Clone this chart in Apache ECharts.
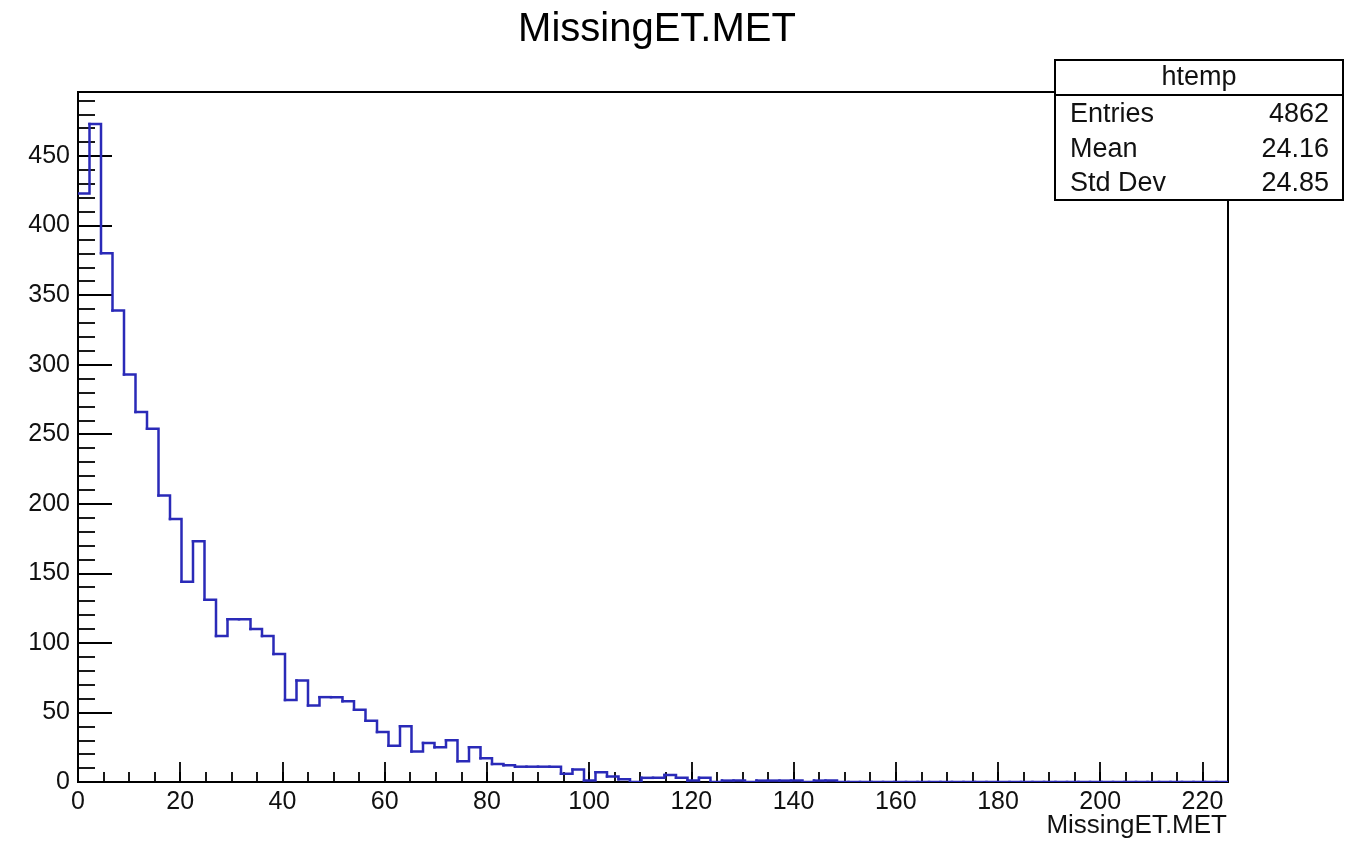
<!DOCTYPE html>
<html>
<head>
<meta charset="utf-8">
<script src="https://cdn.jsdelivr.net/npm/echarts@6/dist/echarts.min.js"></script>
<style>html,body{margin:0;padding:0;background:#fff}#c{width:1359px;height:847px}</style>
</head>
<body>
<div id="c"></div>
<script>
const chartTitle = 'MissingET.MET';
const xAxisName = 'MissingET.MET';
const binWidth = 2.25;
const xMin = 0;
const xMax = 225;
const yMin = 0;
const yMax = 496;
const counts = [
  423, 473, 380, 339, 293, 266, 254, 206, 189, 144,
  173, 131, 105, 117, 117, 110, 105, 92, 59, 73,
  55, 61, 61, 58, 52, 44, 36, 26, 40, 22,
  28, 25, 30, 15, 25, 17, 13, 12, 11, 11,
  11, 11, 6, 9, 1, 7, 4, 2, 0, 3,
  3, 5, 3, 1, 3, 0, 1, 1, 0, 1,
  1, 1, 1, 0, 1, 1, 0, 0, 0, 0,
  0, 0, 0, 0, 0, 0, 0, 0, 0, 0,
  0, 0, 0, 0, 0, 0, 0, 0, 0, 0,
  0, 0, 0, 0, 0, 0, 0, 0, 0, 0
];
const statsTitle = 'htemp';
const statsLabels = ['Entries', 'Mean', 'Std Dev'];
const statsValues = ['4862', '24.16', '24.85'];

const font = 'Liberation Sans, Arial, Helvetica, sans-serif';
// each bin: [left edge, right edge, count, next count]
const binData = counts.map((c, i) => [
  xMin + i * binWidth,
  xMin + (i + 1) * binWidth,
  c,
  i + 1 < counts.length ? counts[i + 1] : c
]);

const chart = echarts.init(document.getElementById('c'), null, {renderer: 'canvas'});

const baseX = {
  type: 'value', min: xMin, max: xMax, position: 'bottom', gridIndex: 0,
  splitLine: {show: false},
  axisLine: {show: true, onZero: false, lineStyle: {color: '#000', width: 2}}
};
const baseY = {
  type: 'value', min: yMin, max: yMax, position: 'left', gridIndex: 0,
  splitLine: {show: false},
  axisLine: {show: true, onZero: false, lineStyle: {color: '#000', width: 2}}
};

const rows = statsLabels.map((l, i) => [l, statsValues[i]]);
const graphics = [
  {type: 'text', x: 657, y: 30, z: 100, style: {text: chartTitle, font: '40px ' + font, fill: '#000', textAlign: 'center', textVerticalAlign: 'middle'}},
  {type: 'text', x: 1227, y: 826, z: 100, style: {text: xAxisName, font: '26px ' + font, fill: '#111', textAlign: 'right', textVerticalAlign: 'middle'}},
  {type: 'rect', z: 100, shape: {x: 1055, y: 60, width: 288, height: 140}, style: {fill: '#fff', stroke: '#000', lineWidth: 2}},
  {type: 'line', z: 101, shape: {x1: 1055, y1: 95, x2: 1343, y2: 95}, style: {stroke: '#000', lineWidth: 2}},
  {type: 'text', x: 1199, y: 78, z: 102, style: {text: statsTitle, font: '27px ' + font, fill: '#111', textAlign: 'center', textVerticalAlign: 'middle'}}
];
rows.forEach((r, i) => {
  const y = 115 + i * 34.3;
  graphics.push({type: 'text', x: 1070, y: y, z: 102, style: {text: r[0], font: '27px ' + font, fill: '#111', textAlign: 'left', textVerticalAlign: 'middle'}});
  graphics.push({type: 'text', x: 1329, y: y, z: 102, style: {text: r[1], font: '27px ' + font, fill: '#111', textAlign: 'right', textVerticalAlign: 'middle'}});
});

chart.setOption({
  animation: false,
  backgroundColor: '#fff',
  grid: {left: 78, right: 131, top: 92, bottom: 65, show: true, borderColor: '#000', borderWidth: 2, backgroundColor: 'transparent', containLabel: false, outerBoundsMode: 'none'},
  xAxis: [
    Object.assign({}, baseX, {
      interval: 20,
      axisTick: {show: true, inside: true, length: 20, lineStyle: {color: '#000', width: 1.8}},
      axisLabel: {show: true, margin: 8, fontSize: 25, fontFamily: font, color: '#111', showMaxLabel: false}
    }),
    Object.assign({}, baseX, {
      interval: 5,
      axisTick: {show: true, inside: true, length: 10, lineStyle: {color: '#000', width: 1.8}},
      axisLabel: {show: false}
    })
  ],
  yAxis: [
    Object.assign({}, baseY, {
      interval: 50,
      axisTick: {show: true, inside: true, length: 34, lineStyle: {color: '#000', width: 1.8}},
      axisLabel: {show: true, margin: 8, fontSize: 25, fontFamily: font, color: '#111', showMaxLabel: false}
    }),
    Object.assign({}, baseY, {
      interval: 10,
      axisTick: {show: true, inside: true, length: 17, lineStyle: {color: '#000', width: 1.8}},
      axisLabel: {show: false}
    })
  ],
  series: [{
    type: 'custom',
    xAxisIndex: 0,
    yAxisIndex: 0,
    data: binData,
    encode: {x: [0, 1], y: [2, 3]},
    clip: true,
    z: 10,
    renderItem: function (params, api) {
      const p0 = api.coord([api.value(0), api.value(2)]);
      const p1 = api.coord([api.value(1), api.value(2)]);
      const p2 = api.coord([api.value(1), api.value(3)]);
      return {
        type: 'polyline',
        shape: {points: [p0, p1, p2]},
        style: {stroke: '#2a2ab8', lineWidth: 2.5, fill: null, lineJoin: 'miter', lineCap: 'square'}
      };
    }
  }],
  graphic: graphics
});
</script>
</body>
</html>
